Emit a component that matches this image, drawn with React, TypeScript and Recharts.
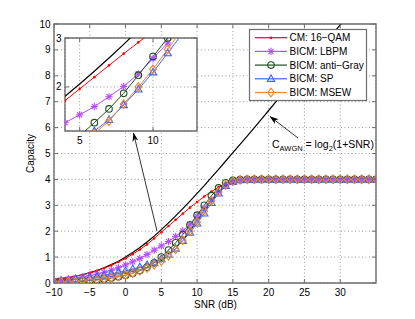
import React from "react";
import { CartesianGrid, Line, LineChart, ReferenceArea, XAxis, YAxis } from "recharts";

// SNR in dB, one point per dB
const snr = [
  -10, -9, -8, -7, -6, -5, -4, -3, -2, -1, 0, 1, 2, 3, 4, 5, 6, 7, 8, 9, 10, 11, 12, 13, 14, 15, 16, 17, 18, 19, 20,
  21, 22, 23, 24, 25, 26, 27, 28, 29, 30, 31, 32, 33, 34, 35,
];

// AWGN capacity, only up to 31 dB (leaves the plot at the top)
const awgn = [
  0.14, 0.17, 0.21, 0.26, 0.32, 0.4, 0.48, 0.59, 0.71, 0.84, 1.0, 1.18, 1.37, 1.58, 1.81, 2.06, 2.32, 2.59, 2.87, 3.16,
  3.46, 3.76, 4.08, 4.39, 4.71, 5.03, 5.35, 5.67, 6.0, 6.33, 6.66, 6.99, 7.32, 7.65, 7.98, 8.31, 8.64, 8.97, 9.3, 9.64,
  9.97, 10.3,
];

const cm16qam = [
  0.14, 0.17, 0.21, 0.26, 0.32, 0.39, 0.47, 0.57, 0.68, 0.81, 0.95, 1.11, 1.29, 1.49, 1.72, 1.96, 2.2, 2.44, 2.68, 2.91,
  3.13, 3.34, 3.53, 3.7, 3.83, 3.92, 3.97, 3.99, 4, 4, 4, 4, 4, 4, 4, 4, 4, 4, 4, 4, 4, 4, 4, 4, 4, 4,
];

const lbpm = [
  0.1, 0.12, 0.15, 0.19, 0.23, 0.28, 0.34, 0.41, 0.49, 0.59, 0.7, 0.82, 0.95, 1.1, 1.27, 1.43, 1.6, 1.8, 2.01, 2.27,
  2.58, 2.9, 3.22, 3.52, 3.75, 3.9, 3.97, 3.99, 4, 4, 4, 4, 4, 4, 4, 4, 4, 4, 4, 4, 4, 4, 4, 4, 4, 4,
];

const antiGray = [
  0.03, 0.04, 0.05, 0.06, 0.08, 0.1, 0.12, 0.15, 0.19, 0.24, 0.3, 0.38, 0.48, 0.61, 0.78, 1.0, 1.27, 1.55, 1.87, 2.24,
  2.62, 3.0, 3.37, 3.67, 3.87, 3.96, 3.99, 4, 4, 4, 4, 4, 4, 4, 4, 4, 4, 4, 4, 4, 4, 4, 4, 4, 4, 4,
];

const sp = [
  0.07, 0.09, 0.11, 0.14, 0.17, 0.21, 0.25, 0.3, 0.35, 0.41, 0.47, 0.54, 0.61, 0.69, 0.79, 0.92, 1.1, 1.33, 1.63, 1.95,
  2.3, 2.69, 3.09, 3.46, 3.75, 3.91, 3.97, 3.99, 4, 4, 4, 4, 4, 4, 4, 4, 4, 4, 4, 4, 4, 4, 4, 4, 4, 4,
];

const msew = [
  0.03, 0.04, 0.05, 0.06, 0.08, 0.1, 0.13, 0.16, 0.2, 0.25, 0.31, 0.38, 0.47, 0.58, 0.7, 0.85, 1.05, 1.3, 1.65, 2.0,
  2.36, 2.77, 3.17, 3.52, 3.79, 3.93, 3.98, 4, 4, 4, 4, 4, 4, 4, 4, 4, 4, 4, 4, 4, 4, 4, 4, 4, 4, 4,
];

const xTicks = [-10, -5, 0, 5, 10, 15, 20, 25, 30];
const yTicks = [0, 1, 2, 3, 4, 5, 6, 7, 8, 9, 10];
const insetXTicks = [5, 10];
const insetYTicks = [2, 3];

const series = [
  { key: "awgn", name: "", color: "#000000", marker: "none", width: 1.2, values: awgn },
  { key: "cm", name: "CM: 16\u2212QAM", color: "#ff0000", marker: "dot", width: 1, values: cm16qam },
  { key: "lbpm", name: "BICM: LBPM", color: "#b64cff", marker: "star", width: 1, values: lbpm },
  { key: "antiGray", name: "BICM: anti\u2212Gray", color: "#1f4f1f", marker: "circle", width: 1, values: antiGray },
  { key: "sp", name: "BICM: SP", color: "#3a66ff", marker: "triangle", width: 1, values: sp },
  { key: "msew", name: "BICM: MSEW", color: "#f0822a", marker: "diamond", width: 1, values: msew },
];

const data = snr.map((x, i) => {
  const row: any = { snr: x };
  series.forEach((s) => {
    row[s.key] = i < s.values.length ? s.values[i] : null;
  });
  return row;
});

const FONT = "'Liberation Sans', Arial, Helvetica, sans-serif";
const GRAY = "#6e6e6e";
const MAIN = { left: 54, top: 24, right: 376, bottom: 283 };
const INSET_BOX = { x: 50, y: 30, w: 152, h: 120 };

const fmt = (v: number) => (v < 0 ? "\u2212" + Math.abs(v) : String(v));

function Marker({ kind, cx, cy, color }: any) {
  if (cx == null || cy == null || isNaN(cx) || isNaN(cy)) return <g />;
  switch (kind) {
    case "dot":
      return <circle cx={cx} cy={cy} r={1.3} fill={color} />;
    case "star":
      return (
        <g stroke={color} strokeWidth={1.1}>
          <line x1={cx - 3.6} y1={cy} x2={cx + 3.6} y2={cy} />
          <line x1={cx} y1={cy - 3.6} x2={cx} y2={cy + 3.6} />
          <line x1={cx - 2.6} y1={cy - 2.6} x2={cx + 2.6} y2={cy + 2.6} />
          <line x1={cx - 2.6} y1={cy + 2.6} x2={cx + 2.6} y2={cy - 2.6} />
        </g>
      );
    case "circle":
      return <circle cx={cx} cy={cy} r={3.3} fill="none" stroke={color} strokeWidth={1.1} />;
    case "triangle":
      return (
        <polygon
          points={`${cx},${cy - 4} ${cx + 3.7},${cy + 2.6} ${cx - 3.7},${cy + 2.6}`}
          fill="none"
          stroke={color}
          strokeWidth={1.1}
        />
      );
    case "diamond":
      return (
        <polygon
          points={`${cx},${cy - 4.3} ${cx + 3.3},${cy} ${cx},${cy + 4.3} ${cx - 3.3},${cy}`}
          fill="none"
          stroke={color}
          strokeWidth={1.1}
        />
      );
    default:
      return <g />;
  }
}

function renderLines(prefix: string) {
  return series.map((s) => (
    <Line
      key={prefix + s.key}
      dataKey={s.key}
      type="linear"
      stroke={s.color}
      strokeWidth={s.width}
      isAnimationActive={false}
      activeDot={false}
      dot={
        s.marker === "none"
          ? false
          : (p: any) => <Marker key={`${prefix}${s.key}-${p.index}`} kind={s.marker} cx={p.cx} cy={p.cy} color={s.color} />
      }
    />
  ));
}

// x tick: label below, inward tick marks at bottom and top of the box
const makeXTick = (top: number) => (props: any) => {
  const { x, y, payload } = props;
  return (
    <g>
      <line x1={x} x2={x} y1={y} y2={y - 4} stroke={GRAY} />
      <line x1={x} x2={x} y1={top} y2={top + 4} stroke={GRAY} />
      <text x={x} y={y + 13} textAnchor="middle" fontSize={10} fontFamily={FONT} fill="#000">
        {fmt(payload.value)}
      </text>
    </g>
  );
};

const makeYTick = (right: number) => (props: any) => {
  const { x, y, payload } = props;
  return (
    <g>
      <line x1={x} x2={x + 4} y1={y} y2={y} stroke={GRAY} />
      <line x1={right} x2={right - 4} y1={y} y2={y} stroke={GRAY} />
      <text x={x - 3.5} y={y} dy="0.35em" textAnchor="end" fontSize={10} fontFamily={FONT} fill="#000">
        {fmt(payload.value)}
      </text>
    </g>
  );
};

function Overlay() {
  const legendSeries = series.filter((s) => s.name);
  return (
    <svg width={415} height={319} style={{ position: "absolute", left: 0, top: 0, pointerEvents: "none" }}>
      <defs>
        <marker id="head" markerWidth="9" markerHeight="6" refX="8.5" refY="3" orient="auto" markerUnits="userSpaceOnUse">
          <path d="M0,0 L9,3 L0,6 L2.5,3 Z" fill="#000" />
        </marker>
      </defs>
      {/* axis titles */}
      <text x={215.5} y={307.5} textAnchor="middle" fontSize={10} fontFamily={FONT}>
        SNR (dB)
      </text>
      <text x={30} y={153.5} dy="0.35em" textAnchor="middle" fontSize={10} fontFamily={FONT} transform="rotate(-90 30 153.5)">
        Capacity
      </text>
      {/* legend */}
      <rect x={249.5} y={29.5} width={117} height={71} fill="#fff" stroke={GRAY} strokeWidth={1.2} />
      {legendSeries.map((s, i) => {
        const y = 37.7 + i * 13.7;
        return (
          <g key={s.key}>
            <line x1={255} x2={287} y1={y} y2={y} stroke={s.color} strokeWidth={1.2} />
            <Marker kind={s.marker} cx={271} cy={y} color={s.color} />
            <text x={289.5} y={y} dy="0.35em" fontSize={10} fontFamily={FONT}>
              {s.name}
            </text>
          </g>
        );
      })}
      {/* annotation for the AWGN curve */}
      <line x1={298} y1={138} x2={270} y2={116.5} stroke="#000" strokeWidth={0.8} markerEnd="url(#head)" />
      <text x={272} y={148} fontSize={10.5} fontFamily={FONT}>
        C<tspan fontSize={7.5} dy={3}>AWGN</tspan>
        <tspan dy={-3}> = log</tspan>
        <tspan fontSize={7.5} dy={3}>2</tspan>
        <tspan dy={-3}>(1+SNR)</tspan>
      </text>
      {/* arrow pointing to the zoomed inset */}
      <line x1={157} y1={231} x2={133.5} y2={133} stroke="#000" strokeWidth={0.8} markerEnd="url(#head)" />
    </svg>
  );
}

export default function App() {
  const insetLeft = 65 - INSET_BOX.x;
  return (
    <div style={{ position: "absolute", left: 0, top: 0, width: 415, height: 319, background: "#fff" }}>
      <LineChart
        width={415}
        height={319}
        data={data}
        margin={{ top: MAIN.top, right: 415 - MAIN.right, left: MAIN.left - 30, bottom: 319 - MAIN.bottom - 20 }}
      >
        <CartesianGrid stroke="#9a9a9a" strokeDasharray="1 2.5" fill="#fff" />
        <XAxis
          dataKey="snr"
          type="number"
          domain={[-10, 35]}
          ticks={xTicks}
          allowDataOverflow
          axisLine={false}
          tickLine={false}
          tickSize={0}
          tickMargin={0}
          height={20}
          interval={0}
          tick={makeXTick(MAIN.top)}
        />
        <YAxis
          type="number"
          domain={[0, 10]}
          ticks={yTicks}
          allowDataOverflow
          axisLine={false}
          tickLine={false}
          tickSize={0}
          tickMargin={0}
          width={30}
          interval={0}
          tick={makeYTick(MAIN.right)}
        />
        {renderLines("m-")}
        <ReferenceArea x1={-10} x2={35} y1={0} y2={10} fill="none" stroke={GRAY} strokeWidth={1.4} ifOverflow="visible" />
      </LineChart>

      <div style={{ position: "absolute", left: INSET_BOX.x, top: INSET_BOX.y }}>
        <LineChart
          width={INSET_BOX.w}
          height={INSET_BOX.h}
          data={data}
          margin={{ top: 8, right: INSET_BOX.w - insetLeft - 132, left: insetLeft - 10, bottom: 9 }}
        >
          <CartesianGrid stroke="#9a9a9a" strokeDasharray="1 2.5" fill="#fff" />
          <XAxis
            dataKey="snr"
            type="number"
            domain={[4, 13]}
            ticks={insetXTicks}
            allowDataOverflow
            axisLine={false}
            tickLine={false}
            tickSize={0}
            tickMargin={0}
            height={10}
            interval={0}
            tick={makeXTick(8)}
          />
          <YAxis
            type="number"
            domain={[1.1, 3]}
            ticks={insetYTicks}
            allowDataOverflow
            axisLine={false}
            tickLine={false}
            tickSize={0}
            tickMargin={0}
            width={10}
            interval={0}
            tick={makeYTick(insetLeft + 132)}
          />
          {renderLines("i-")}
          <ReferenceArea x1={4} x2={13} y1={1.1} y2={3} fill="none" stroke={GRAY} strokeWidth={1.4} ifOverflow="visible" />
        </LineChart>
      </div>

      <Overlay />
    </div>
  );
}
